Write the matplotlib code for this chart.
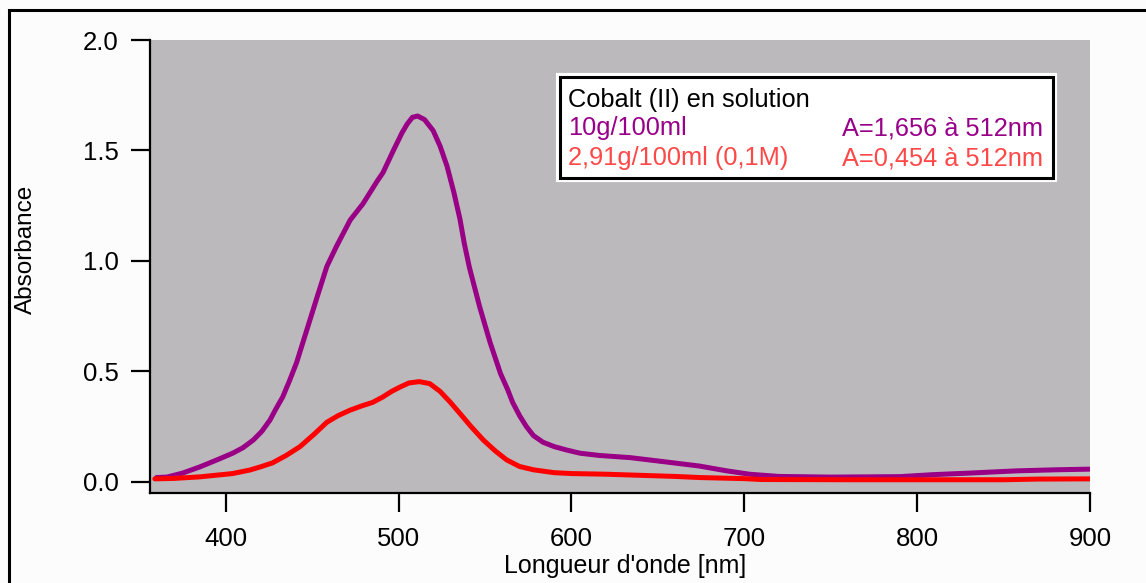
import matplotlib.pyplot as plt
from matplotlib.patches import Rectangle

nm_10g = [360, 366, 375, 385, 395, 404, 410, 416, 421, 425.6, 429, 433, 437, 441,
          447, 453, 458.5, 464, 472, 479.5, 487.5, 491, 497, 502, 505, 508, 511,
          515, 520, 524, 528, 532, 535.5, 538, 541, 544, 547, 550, 553, 556, 559,
          563, 566, 570, 574, 578, 583.5, 590, 597, 605, 616, 634, 650, 674, 690,
          703, 720, 750, 790, 809, 830, 857, 880, 900]
abs_10g = [0.02, 0.022, 0.04, 0.068, 0.10, 0.13, 0.155, 0.19, 0.23, 0.28, 0.33,
           0.385, 0.46, 0.54, 0.69, 0.84, 0.975, 1.065, 1.185, 1.26, 1.36, 1.40,
           1.50, 1.58, 1.62, 1.65, 1.656, 1.64, 1.59, 1.52, 1.43, 1.31, 1.19, 1.08,
           0.97, 0.88, 0.79, 0.71, 0.63, 0.56, 0.49, 0.42, 0.36, 0.30, 0.25, 0.21,
           0.18, 0.16, 0.145, 0.13, 0.12, 0.11, 0.095, 0.072, 0.05, 0.035, 0.025,
           0.022, 0.024, 0.033, 0.04, 0.05, 0.055, 0.058]

nm_291g = [359, 370, 385, 404, 414, 420, 427, 435, 443, 451, 458.5, 465, 472, 479,
           485, 491, 496, 501, 506, 512, 518, 524, 530, 535.5, 542, 549, 556,
           562.5, 570, 578, 590, 600, 620, 640, 660, 674, 700, 710, 760, 800, 850,
           870, 900]
abs_291g = [0.014, 0.016, 0.023, 0.038, 0.054, 0.068, 0.086, 0.12, 0.16, 0.215,
            0.27, 0.30, 0.325, 0.345, 0.36, 0.385, 0.41, 0.43, 0.448, 0.454, 0.445,
            0.41, 0.36, 0.31, 0.25, 0.19, 0.14, 0.10, 0.07, 0.055, 0.042, 0.038,
            0.035, 0.03, 0.025, 0.02, 0.015, 0.011, 0.01, 0.01, 0.01, 0.013, 0.014]

x_ticks = [400, 500, 600, 700, 800, 900]
y_ticks = [0.0, 0.5, 1.0, 1.5, 2.0]
legende = ["Cobalt (II) en solution",
           "10g/100ml", "A=1,656 à 512nm",
           "2,91g/100ml (0,1M)", "A=0,454 à 512nm"]

plt.rcParams['font.family'] = ['Liberation Sans', 'DejaVu Sans']

W, H = 1146, 583
fig = plt.figure(figsize=(W / 100, H / 100), dpi=100)
fig.patch.set_facecolor('#fcfcfc')

# cadre noir autour de la figure (coupe a droite et en bas)
fig.patches.append(Rectangle((9 / W, -0.1), 1.2, 1 - 10 / H + 0.1,
                             transform=fig.transFigure, fill=False,
                             edgecolor='black', lw=2.2))

ax = fig.add_axes([150 / W, 1 - 493 / H, 940 / W, 453 / H])
ax.set_facecolor('#bbb9bc')

ax.plot(nm_10g, abs_10g, color='#990085', lw=3.6, solid_joinstyle='round',
        solid_capstyle='round')
ax.plot(nm_291g, abs_291g, color='#ff0000', lw=3.6, solid_joinstyle='round',
        solid_capstyle='round')

ax.set_xlim(356.2, 900)
ax.set_ylim(-0.05, 2.0)
ax.set_xticks(x_ticks)
ax.set_yticks(y_ticks)
ax.set_yticklabels([f"{v:.1f}" for v in y_ticks])

for s in ['top', 'right']:
    ax.spines[s].set_visible(False)
for s in ['left', 'bottom']:
    ax.spines[s].set_linewidth(1.6)
ax.tick_params(direction='out', length=13.5, width=1.6, labelsize=18.5)
ax.tick_params(axis='x', pad=11)
ax.tick_params(axis='y', pad=9)

ax.set_xlabel("Longueur d'onde [nm]", fontsize=18)
ax.set_ylabel("Absorbance", fontsize=17.5)
ax.xaxis.set_label_coords(0.505, -0.1355)
ax.yaxis.set_label_coords(-0.120, 0.5375)

# boite de legende
tr = ax.transAxes
ax.add_patch(Rectangle((0.434, 0.691), 0.529, 0.231, transform=tr,
                       facecolor='white', edgecolor='white', lw=3, zorder=5))
ax.add_patch(Rectangle((0.436, 0.695), 0.525, 0.223, transform=tr,
                       facecolor='white', edgecolor='black', lw=2.2, zorder=6))
ax.text(0.445, 0.852, legende[0], transform=tr, fontsize=18.3, color='black',
        va='baseline', zorder=7)
ax.text(0.445, 0.790, legende[1], transform=tr, fontsize=18.3, color='#99008a',
        va='baseline', zorder=7)
ax.text(0.950, 0.790, legende[2], transform=tr, fontsize=18.3, color='#99008a',
        va='baseline', ha='right', zorder=7)
ax.text(0.445, 0.724, legende[3], transform=tr, fontsize=18.3, color='#ff4848',
        va='baseline', zorder=7)
ax.text(0.950, 0.724, legende[4], transform=tr, fontsize=18.3, color='#ff4848',
        va='baseline', ha='right', zorder=7)

fig.savefig('out.png', dpi=100, facecolor=fig.get_facecolor())
